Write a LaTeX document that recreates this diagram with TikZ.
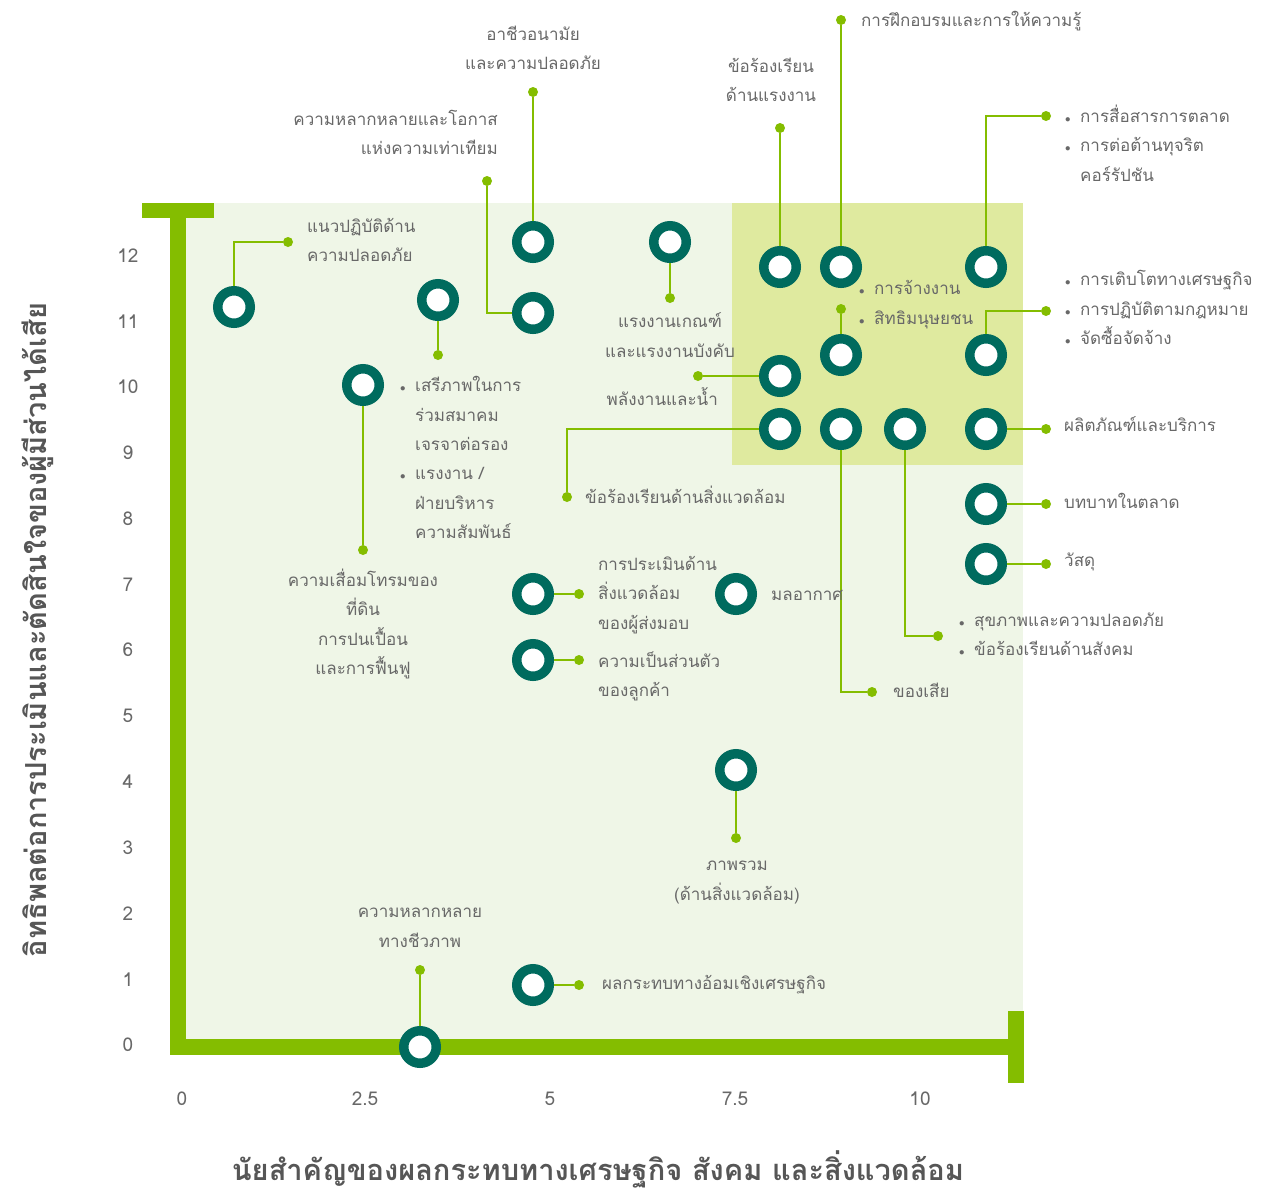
\documentclass[tikz,border=0pt]{standalone}
\usepackage{fontspec}
\setmainfont[Script=Thai]{Loma}
\definecolor{bgL}{HTML}{EFF6E7}
\definecolor{hiL}{HTML}{DFEA9F}
\definecolor{limeC}{HTML}{84BD00}
\definecolor{tealC}{HTML}{006B5E}
\definecolor{txtC}{HTML}{686868}
\definecolor{ttlC}{HTML}{565656}
\newcommand{\bi}{\makebox[15pt][l]{{\fontsize{11}{11}\selectfont$\bullet$}}}
\newcommand{\ind}{\hspace*{15pt}}
\tikzset{
  mat/.style={circle, draw=tealC, line width=9.5pt, fill=white, minimum size=32.5pt, inner sep=0pt, outer sep=4.75pt},
  ldot/.style={circle, fill=limeC, minimum size=10pt, inner sep=0pt},
  lead/.style={draw=limeC, line width=2.6pt},
  lbl/.style={text=txtC, font=\fontsize{17}{29.4}\selectfont, inner sep=0pt, execute at begin node=\strut, execute at end node=\strut},
  tick/.style={text=txtC, font=\fontsize{19}{22}\selectfont, inner sep=0pt},
  axtitle/.style={text=ttlC, font=\bfseries\fontsize{29}{33}\selectfont, inner sep=0pt},
  bar/.style={fill=limeC},
}
\begin{document}
\begin{tikzpicture}[x=1pt,y=-1pt]
\useasboundingbox (0,0) rectangle (1274,1192);
% backgrounds
\fill[bgL] (186,203) rectangle (1023,1039);
\fill[hiL] (732,203) rectangle (1023,465);
% axes
\fill[bar] (142,203) rectangle (214,218);
\fill[bar] (170,203) rectangle (186,1055);
\fill[bar] (170,1039) rectangle (1024,1055);
\fill[bar] (1008,1011) rectangle (1024,1083);
% ticks
\foreach \k in {0,...,12} \node[tick] (yt\k) at (128,1045-\k*65.8) {\k};
\node[tick] (xt0) at (182,1099) {0};
\node[tick] (xt1) at (365,1099) {2.5};
\node[tick] (xt2) at (550,1099) {5};
\node[tick] (xt3) at (735,1099) {7.5};
\node[tick] (xt4) at (920,1099) {10};
% axis titles
\node[axtitle, rotate=90] (ytitle) at (38,630) {อิทธิพลต่อการประเมินและตัดสินใจของผู้มีส่วนได้เสีย};
\node[axtitle] (xtitle) at (598,1169) {นัยสำคัญของผลกระทบทางเศรษฐกิจ สังคม และสิ่งแวดล้อม};
% circles
\node[mat] (c1) at (234,307) {};
\node[mat] (c2) at (438,300) {};
\node[mat] (c3) at (363,385) {};
\node[mat] (c4) at (533,242) {};
\node[mat] (c5) at (533,313) {};
\node[mat] (c6) at (670,242) {};
\node[mat] (c7) at (780,376) {};
\node[mat] (c8) at (780,429) {};
\node[mat] (c9) at (780,267) {};
\node[mat] (c10) at (841,267) {};
\node[mat] (c11) at (986,267) {};
\node[mat] (c12) at (841,355) {};
\node[mat] (c13) at (986,355) {};
\node[mat] (c14) at (841,429) {};
\node[mat] (c15) at (905,429) {};
\node[mat] (c16) at (986,429) {};
\node[mat] (c17) at (986,504) {};
\node[mat] (c18) at (986,564) {};
\node[mat] (c19) at (533,594) {};
\node[mat] (c20) at (736,594) {};
\node[mat] (c21) at (533,660) {};
\node[mat] (c22) at (736,770) {};
\node[mat] (c23) at (533,985) {};
\node[mat] (c24) at (420,1047) {};
% dots
\node[ldot] (d1) at (288,242) {};
\node[ldot] (d2) at (438,355) {};
\node[ldot] (d3) at (363,550) {};
\node[ldot] (d4) at (533,92) {};
\node[ldot] (d5) at (487,181) {};
\node[ldot] (d6) at (670,298) {};
\node[ldot] (d7) at (698,376) {};
\node[ldot] (d8) at (567,497) {};
\node[ldot] (d9) at (780,128) {};
\node[ldot] (d10) at (841,20) {};
\node[ldot] (d11) at (1046,116) {};
\node[ldot] (d12) at (841,309) {};
\node[ldot] (d13) at (1046,311) {};
\node[ldot] (d14) at (872,692) {};
\node[ldot] (d15) at (938,636) {};
\node[ldot] (d16) at (1046,429) {};
\node[ldot] (d17) at (1046,504) {};
\node[ldot] (d18) at (1046,564) {};
\node[ldot] (d19) at (579,594) {};
\node[ldot] (d21) at (579,660) {};
\node[ldot] (d22) at (736,838) {};
\node[ldot] (d23) at (579,985) {};
\node[ldot] (d24) at (420,970) {};
% leaders
\draw[lead] (c1) |- (d1);
\draw[lead] (c2) -- (d2);
\draw[lead] (c3) -- (d3);
\draw[lead] (c4) -- (d4);
\draw[lead] (c5) -| (d5);
\draw[lead] (c6) -- (d6);
\draw[lead] (c7) -- (d7);
\draw[lead] (c8) -| (d8);
\draw[lead] (c9) -- (d9);
\draw[lead] (c10) -- (d10);
\draw[lead] (c11) |- (d11);
\draw[lead] (c12) -- (d12);
\draw[lead] (c13) |- (d13);
\draw[lead] (c14) |- (d14);
\draw[lead] (c15) |- (d15);
\draw[lead] (c16) -- (d16);
\draw[lead] (c17) -- (d17);
\draw[lead] (c18) -- (d18);
\draw[lead] (c19) -- (d19);
\draw[lead] (c21) -- (d21);
\draw[lead] (c22) -- (d22);
\draw[lead] (c23) -- (d23);
\draw[lead] (c24) -- (d24);
% labels
\node[lbl, anchor=west, align=left] (l1) at (307,244.5) {แนวปฏิบัติด้าน\\ความปลอดภัย};
\node[lbl, anchor=west, align=left] (l2) at (400,462) {\bi เสรีภาพในการ\\\ind ร่วมสมาคม\\\ind เจรจาต่อรอง\\\bi แรงงาน /\\\ind ฝ่ายบริหาร\\\ind ความสัมพันธ์};
\node[lbl, align=center] (l3) at (363,626) {ความเสื่อมโทรมของ\\ที่ดิน\\การปนเปื้อน\\และการฟื้นฟู};
\node[lbl, align=center] (l4) at (533,52.5) {อาชีวอนามัย\\และความปลอดภัย};
\node[lbl, anchor=east, align=right] (l5) at (498,136.5) {ความหลากหลายและโอกาส\\แห่งความเท่าเทียม};
\node[lbl, align=center] (l6) at (670,339.5) {แรงงานเกณฑ์\\และแรงงานบังคับ};
\node[lbl, anchor=east] (l7) at (718,400) {พลังงานและน้ำ};
\node[lbl, anchor=west] (l8) at (585,498) {ข้อร้องเรียนด้านสิ่งแวดล้อม};
\node[lbl, align=center] (l9) at (771,84.5) {ข้อร้องเรียน\\ด้านแรงงาน};
\node[lbl, anchor=west] (l10) at (861,21) {การฝึกอบรมและการให้ความรู้};
\node[lbl, anchor=west, align=left] (l11) at (1065,147.5) {\bi การสื่อสารการตลาด\\\bi การต่อต้านทุจริต\\\ind คอร์รัปชัน};
\node[lbl, anchor=west, align=left] (l12) at (859,307) {\bi การจ้างงาน\\\bi สิทธิมนุษยชน};
\node[lbl, anchor=west, align=left] (l13) at (1065,312) {\bi การเติบโตทางเศรษฐกิจ\\\bi การปฏิบัติตามกฎหมาย\\\bi จัดซื้อจัดจ้าง};
\node[lbl, anchor=west] (l14) at (893,692) {ของเสีย};
\node[lbl, anchor=west, align=left] (l15) at (959,638.5) {\bi สุขภาพและความปลอดภัย\\\bi ข้อร้องเรียนด้านสังคม};
\node[lbl, anchor=west] (l16) at (1064,426) {ผลิตภัณฑ์และบริการ};
\node[lbl, anchor=west] (l17) at (1064,503) {บทบาทในตลาด};
\node[lbl, anchor=west] (l18) at (1064,561) {วัสดุ};
\node[lbl, anchor=west, align=left] (l19) at (598,597) {การประเมินด้าน\\สิ่งแวดล้อม\\ของผู้ส่งมอบ};
\node[lbl, anchor=west] (l20) at (771,595) {มลอากาศ};
\node[lbl, anchor=west, align=left] (l21) at (598,678.5) {ความเป็นส่วนตัว\\ของลูกค้า};
\node[lbl, align=center] (l22) at (737,885) {ภาพรวม\\(ด้านสิ่งแวดล้อม)};
\node[lbl, anchor=west] (l23) at (602,984) {ผลกระทบทางอ้อมเชิงเศรษฐกิจ};
\node[lbl, align=center] (l24) at (420,932) {ความหลากหลาย\\ทางชีวภาพ};
\end{tikzpicture}
\end{document}
